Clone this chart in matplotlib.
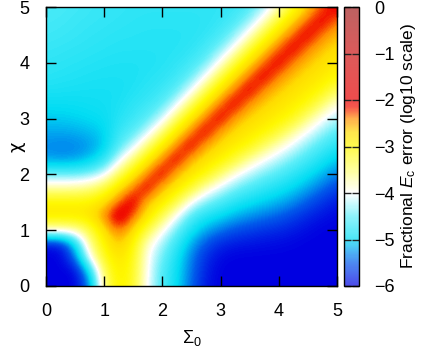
import numpy as np
import matplotlib
matplotlib.use("Agg")
import matplotlib.pyplot as plt
from matplotlib.colors import LinearSegmentedColormap, Normalize
from matplotlib.cm import ScalarMappable

plt.rcParams["font.family"] = ["Liberation Sans", "DejaVu Sans"]
plt.rcParams["mathtext.fontset"] = "custom"
plt.rcParams["mathtext.rm"] = "Liberation Sans"
plt.rcParams["mathtext.it"] = "Liberation Sans:italic"

# Grid axes (Sigma_0 columns, chi rows listed from top chi=5 to bottom chi=0)
sigma0 = [0.0, 0.25, 0.5, 0.75, 1.0, 1.25, 1.5, 1.75, 2.0, 2.25, 2.5,
          2.75, 3.0, 3.25, 3.5, 3.75, 4.0, 4.25, 4.5, 4.75, 5.0]
chi = [5.0, 4.75, 4.5, 4.25, 4.0, 3.75, 3.5, 3.25, 3.0, 2.75, 2.5,
       2.25, 2.0, 1.75, 1.5, 1.25, 1.0, 0.75, 0.5, 0.25, 0.0]

# log10 fractional Ec error
err_c500 = [-4.60,-4.62,-4.65,-4.68,-4.70,-4.72,-4.74,-4.75,-4.75,-4.75,-4.75,-4.75,-4.74,-4.70,-4.58,-4.30,-3.76,-3.12,-2.63,-2.27,-2.00]
err_c475 = [-4.63,-4.65,-4.68,-4.70,-4.72,-4.74,-4.76,-4.77,-4.77,-4.77,-4.77,-4.76,-4.71,-4.59,-4.34,-3.81,-3.15,-2.64,-2.27,-2.00,-2.37]
err_c450 = [-4.66,-4.68,-4.70,-4.73,-4.75,-4.77,-4.78,-4.79,-4.79,-4.79,-4.78,-4.73,-4.61,-4.37,-3.86,-3.18,-2.66,-2.28,-2.00,-2.38,-2.59]
err_c425 = [-4.70,-4.72,-4.74,-4.76,-4.78,-4.80,-4.80,-4.80,-4.80,-4.79,-4.74,-4.62,-4.40,-3.90,-3.20,-2.67,-2.28,-2.00,-2.39,-2.60,-2.75]
err_c400 = [-4.74,-4.76,-4.78,-4.80,-4.82,-4.83,-4.83,-4.83,-4.80,-4.74,-4.65,-4.45,-3.94,-3.23,-2.69,-2.29,-2.00,-2.40,-2.61,-2.76,-2.87]
err_c375 = [-4.78,-4.80,-4.82,-4.84,-4.85,-4.85,-4.85,-4.80,-4.75,-4.67,-4.47,-4.00,-3.27,-2.70,-2.29,-2.00,-2.41,-2.62,-2.77,-2.87,-3.01]
err_c350 = [-4.85,-4.86,-4.87,-4.88,-4.88,-4.88,-4.82,-4.75,-4.68,-4.50,-4.06,-3.32,-2.72,-2.30,-2.00,-2.44,-2.64,-2.78,-2.89,-3.03,-3.42]
err_c325 = [-4.95,-4.95,-4.94,-4.92,-4.90,-4.85,-4.75,-4.68,-4.53,-4.10,-3.36,-2.74,-2.30,-2.00,-2.47,-2.67,-2.80,-2.91,-3.06,-3.49,-3.92]
err_c300 = [-5.05,-5.05,-5.02,-4.98,-4.95,-4.80,-4.68,-4.53,-4.16,-3.40,-2.76,-2.31,-2.00,-2.50,-2.71,-2.82,-2.93,-3.10,-3.57,-3.98,-4.28]
err_c275 = [-5.20,-5.20,-5.18,-5.12,-5.02,-4.70,-4.53,-4.16,-3.46,-2.78,-2.32,-2.00,-2.53,-2.74,-2.86,-2.98,-3.24,-3.68,-4.04,-4.34,-4.56]
err_c250 = [-5.30,-5.35,-5.33,-5.25,-5.05,-4.55,-4.16,-3.46,-2.82,-2.32,-2.00,-2.55,-2.76,-2.90,-3.06,-3.46,-3.83,-4.12,-4.40,-4.62,-4.83]
err_c225 = [-5.20,-5.22,-5.20,-5.05,-4.75,-4.10,-3.46,-2.82,-2.33,-2.00,-2.59,-2.80,-2.94,-3.25,-3.71,-4.02,-4.25,-4.47,-4.67,-4.88,-5.07]
err_c200 = [-4.45,-4.45,-4.45,-4.35,-4.10,-3.40,-2.82,-2.33,-2.00,-2.60,-2.83,-3.02,-3.49,-3.95,-4.22,-4.43,-4.58,-4.76,-4.93,-5.13,-5.35]
err_c175 = [-3.65,-3.65,-3.63,-3.55,-3.25,-2.75,-2.33,-2.00,-2.60,-2.85,-3.18,-3.79,-4.15,-4.43,-4.60,-4.75,-4.87,-5.01,-5.20,-5.42,-5.64]
err_c150 = [-2.95,-2.95,-2.95,-2.93,-2.75,-2.30,-1.95,-2.62,-2.86,-3.30,-4.04,-4.40,-4.60,-4.80,-4.93,-5.04,-5.15,-5.30,-5.51,-5.71,-5.85]
err_c125 = [-2.83,-2.83,-2.83,-2.80,-2.40,-1.85,-2.30,-2.80,-3.34,-4.05,-4.60,-4.83,-4.98,-5.15,-5.27,-5.38,-5.48,-5.63,-5.78,-5.89,-5.96]
err_c100 = [-3.80,-3.80,-3.75,-3.30,-2.75,-2.30,-2.70,-3.30,-3.95,-4.47,-4.88,-5.18,-5.38,-5.55,-5.64,-5.72,-5.77,-5.85,-5.93,-5.99,-6.00]
err_c075 = [-5.90,-5.90,-5.00,-3.60,-2.95,-2.60,-2.95,-3.85,-4.30,-4.72,-5.18,-5.55,-5.78,-5.86,-5.89,-5.92,-5.94,-5.97,-6.00,-6.00,-6.00]
err_c050 = [-6.00,-6.00,-5.45,-4.00,-3.10,-2.80,-3.05,-3.98,-4.46,-4.88,-5.35,-5.75,-5.95,-6.00,-6.00,-6.00,-6.00,-6.00,-6.00,-6.00,-6.00]
err_c025 = [-6.00,-6.00,-6.00,-5.00,-3.35,-2.88,-3.10,-4.02,-4.58,-4.93,-5.40,-5.82,-6.00,-6.00,-6.00,-6.00,-6.00,-6.00,-6.00,-6.00,-6.00]
err_c000 = [-6.00,-6.00,-6.00,-5.40,-3.50,-2.90,-3.15,-4.05,-4.60,-4.95,-5.45,-5.88,-6.00,-6.00,-6.00,-6.00,-6.00,-6.00,-6.00,-6.00,-6.00]

ticks_xy = [0, 1, 2, 3, 4, 5]
ticks_cb = [-6, -5, -4, -3, -2, -1, 0]

Z = np.array([err_c500, err_c475, err_c450, err_c425, err_c400, err_c375,
              err_c350, err_c325, err_c300, err_c275, err_c250, err_c225,
              err_c200, err_c175, err_c150, err_c125, err_c100, err_c075,
              err_c050, err_c025, err_c000])

# colormap (value in -6..0 -> colour)
cmap_levels = [-6.0, -5.5, -5.0, -4.5, -4.0, -3.5, -3.0, -2.7, -2.4, -2.15, -2.0, -1.0, 0.0]
cmap_colors = ["#0000e1", "#005aeb", "#00dcf3", "#5eeef9", "#ffffff", "#ffff70",
               "#fff800", "#ffdc00", "#ff8c00", "#f21000", "#e60000", "#cd1414", "#a01e1e"]
vmin, vmax = -6.0, 0.0
pos = [(v - vmin) / (vmax - vmin) for v in cmap_levels]
cmap = LinearSegmentedColormap.from_list("gp", list(zip(pos, cmap_colors)))
alpha = 0.7
faded = [tuple(alpha * ch + (1 - alpha) for ch in matplotlib.colors.to_rgb(c)) for c in cmap_colors]
cmap_faded = LinearSegmentedColormap.from_list("gp_faded", list(zip(pos, faded)))
norm = Normalize(vmin=vmin, vmax=vmax)

fig = plt.figure(figsize=(4.21, 3.5), dpi=100)
ax = fig.add_axes([46/421, 64/350, 291/421, 279/350])
cax = fig.add_axes([344/421, 64/350, 15/421, 279/350])

hx = (sigma0[1] - sigma0[0]) / 2
hy = (chi[0] - chi[1]) / 2
ax.imshow(Z, extent=[sigma0[0] - hx, sigma0[-1] + hx, chi[-1] - hy, chi[0] + hy],
          origin="upper", cmap=cmap, norm=norm, interpolation="bicubic",
          aspect="auto")
ax.set_xlim(0, 5)
ax.set_ylim(0, 5)
ax.set_xticks(ticks_xy)
ax.set_yticks(ticks_xy)
ax.tick_params(direction="in", top=True, right=True, length=7, width=1,
               labelsize=13, color="black")
ax.tick_params(axis="x", pad=12)
ax.tick_params(axis="y", pad=12)
for sp in ax.spines.values():
    sp.set_linewidth(1.0)
ax.set_xlabel("Σ$_0$", fontsize=13, labelpad=6)
ax.set_ylabel("χ", fontsize=13, family=["DejaVu Sans"])
ax.yaxis.set_label_coords(-20 / 291, 0.5)

cb = fig.colorbar(ScalarMappable(norm=norm, cmap=cmap_faded), cax=cax)
cb.set_ticks(ticks_cb)
cb.outline.set_linewidth(1.0)
cax.tick_params(direction="in", left=True, right=True, length=5, width=1,
                labelsize=13, pad=11, color="#222222")
cb.set_label("Fractional $E_{\\mathrm{c}}$ error (log10 scale)", fontsize=12.5,
             labelpad=3)

fig.savefig("out.png", dpi=100)
